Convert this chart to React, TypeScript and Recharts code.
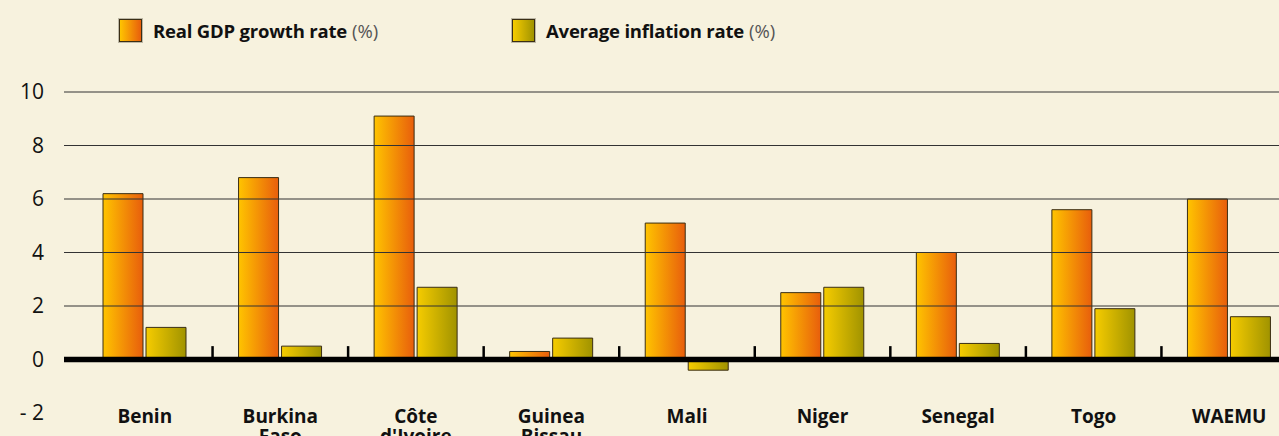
import { BarChart, Bar, XAxis, YAxis, ReferenceLine } from 'recharts'

const categories = ['Benin', 'Burkina\nFaso', "Côte\nd'Ivoire", 'Guinea\nBissau', 'Mali', 'Niger', 'Senegal', 'Togo', 'WAEMU']
const gdpGrowth = [6.2, 6.8, 9.1, 0.3, 5.1, 2.5, 4.0, 5.6, 6.0]
const inflation = [1.2, 0.5, 2.7, 0.8, -0.4, 2.7, 0.6, 1.9, 1.6]
const yTicks = [-2, 0, 2, 4, 6, 8, 10]
const gridValues = [2, 4, 6, 8, 10]
const seriesLabels = ['Real GDP growth rate', 'Average inflation rate']

const data = categories.map((name, i) => ({ name, gdp: gdpGrowth[i], inf: inflation[i] }))

const FONT = '"Open Sans", "DejaVu Sans", sans-serif'
const BG = '#F7F2DE'

function CategoryTick({ x, y, payload }: any) {
  const lines = String(payload.value).split('\n')
  return (
    <text x={x} y={y + 10} textAnchor="middle" fontFamily={FONT} fontSize={19} fontWeight={700} fill="#111">
      {lines.map((l, i) => (
        <tspan key={i} x={x} dy={i === 0 ? 0 : 20}>{l}</tspan>
      ))}
    </text>
  )
}

// legend swatches
const legendGrads = [
  'linear-gradient(to right, #FFC400, #E85E0C)',
  'linear-gradient(to right, #F6CC00, #A09300)',
]
const legendLeft = [119, 512]

export default function App() {
  return (
    <div style={{ position: 'absolute', top: 0, left: 0, width: 1279, height: 436, overflow: 'hidden', background: BG }}>
      {seriesLabels.map((s, i) => (
        <div
          key={s}
          style={{
            position: 'absolute',
            top: 19,
            left: legendLeft[i],
            display: 'flex',
            alignItems: 'center',
            height: 23,
            fontFamily: FONT,
            fontSize: 18.5,
            color: '#111',
            whiteSpace: 'nowrap',
          }}
        >
          <span
            style={{
              display: 'inline-block',
              width: 21,
              height: 21,
              background: legendGrads[i],
              border: '1px solid #3a2e14',
              boxShadow: '0 0 0 1px #bdb8a6',
              marginRight: 11,
            }}
          />
          <span style={{ fontWeight: 700, letterSpacing: -0.2 }}>{s}</span>
          <span style={{ color: '#555', marginLeft: 5 }}>(%)</span>
        </div>
      ))}
      <BarChart
        width={1297}
        height={480}
        data={data}
        margin={{ top: 92, right: 0, bottom: 0, left: 0 }}
        barSize={40}
        barGap={3}
        style={{ position: 'absolute', top: 0, left: 0 }}
      >
        <defs>
          <linearGradient id="gdpGrad" x1="0" y1="0" x2="1" y2="0">
            <stop offset="0%" stopColor="#FFC400" />
            <stop offset="100%" stopColor="#E85E0C" />
          </linearGradient>
          <linearGradient id="infGrad" x1="0" y1="0" x2="1" y2="0">
            <stop offset="0%" stopColor="#F6CC00" />
            <stop offset="100%" stopColor="#A09300" />
          </linearGradient>
        </defs>
        <XAxis
          dataKey="name"
          interval={0}
          axisLine={false}
          tickLine={false}
          tickSize={0}
          tickMargin={0}
          height={67}
          padding={{ left: 13, right: 0 }}
          tick={<CategoryTick />}
        />
        <YAxis
          width={64}
          domain={[-2, 10]}
          ticks={yTicks}
          axisLine={false}
          tickLine={false}
          tickSize={0}
          tickMargin={20}
          tickFormatter={(v: number) => (v < 0 ? `- ${Math.abs(v)}` : `${v}`)}
          tick={{ fontSize: 21, fill: '#111', fontFamily: FONT }}
        />
        {gridValues.map((v) => (
          <ReferenceLine key={v} y={v} stroke="#333" strokeWidth={1} />
        ))}
        <Bar dataKey="gdp" fill="url(#gdpGrad)" stroke="#3a2e14" strokeWidth={1} isAnimationActive={false} />
        <Bar dataKey="inf" fill="url(#infGrad)" stroke="#3a2e14" strokeWidth={1} isAnimationActive={false} />
        <ReferenceLine y={0} stroke="#000" strokeWidth={5.5} />
        {categories.slice(0, -1).map((c) => (
          <ReferenceLine
            key={c}
            position="end"
            segment={[{ x: c, y: 0 }, { x: c, y: 0.5 }]}
            stroke="#000"
            strokeWidth={2.5}
          />
        ))}
      </BarChart>
    </div>
  )
}
